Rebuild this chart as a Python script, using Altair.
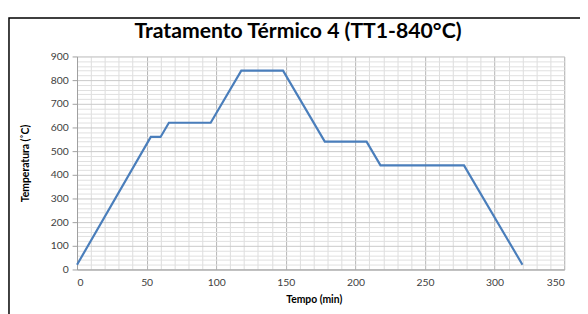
import altair as alt
import pandas as pd

tempo = [0, 53, 60, 66, 96, 118, 148, 178, 208, 218, 278, 320]
temperatura = [20, 560, 560, 620, 620, 840, 840, 540, 540, 440, 440, 20]
x_ticks = list(range(0, 351, 10))
y_ticks = list(range(0, 901, 20))
titulo = ["Tratamento Térmico 4 (TT1-840°C)"]

df = pd.DataFrame({"tempo": tempo, "temp": temperatura})

FONT = "Lato"

x_axis = alt.Axis(
    title="Tempo (min)",
    values=x_ticks,
    labelExpr="datum.value % 50 == 0 ? datum.label : ''",
    gridColor={"condition": {"test": "datum.value % 50 == 0", "value": "#b4b4b4"}, "value": "#dcdcdc"},
    ticks=False,
    domainColor="#a0a0a0",
    labelPadding=8,
    labelFontSize=10.5,
    labelColor="#404040",
    labelFont=FONT,
    titleFont=FONT,
    titleFontSize=10.5,
    titleFontWeight="bold",
    titleColor="#000000",
    titlePadding=7,
    titleX=240,
)
y_axis = alt.Axis(
    title="Temperatura (˚C)",
    values=y_ticks,
    labelExpr="datum.value % 100 == 0 ? datum.label : ''",
    gridColor={"condition": {"test": "datum.value % 100 == 0", "value": "#c8c8c8"}, "value": "#e0e0e0"},
    tickOpacity={"condition": {"test": "datum.value % 100 == 0", "value": 1}, "value": 0},
    tickColor="#a0a0a0",
    tickSize=5,
    domainColor="#a0a0a0",
    labelPadding=4,
    labelFontSize=10.5,
    labelColor="#404040",
    labelFont=FONT,
    titleFont=FONT,
    titleFontSize=10.5,
    titleFontWeight="bold",
    titleColor="#000000",
    titlePadding=20,
)

line = alt.Chart(df).mark_line(color="#4a7ebb", strokeWidth=2.2).encode(
    x=alt.X("tempo:Q", scale=alt.Scale(domain=[0, 350], nice=False), axis=x_axis),
    y=alt.Y("temp:Q", scale=alt.Scale(domain=[0, 900], nice=False), axis=y_axis),
)

frame = alt.Chart(pd.DataFrame({"a": [0]})).mark_rect(
    fill=None, stroke="#000000", strokeWidth=1.5
).encode(
    x=alt.value(-69), x2=alt.value(620), y=alt.value(-39), y2=alt.value(400)
)

title = alt.Chart(pd.DataFrame({"t": titulo})).mark_text(
    font=FONT, fontSize=21.5, fontWeight="bold", color="#000000",
    align="center", baseline="middle"
).encode(
    text="t:N", x=alt.value(224), y=alt.value(-25)
)

chart = alt.layer(frame, line, title).properties(
    width=494,
    height=216,
    padding={"left": 70, "top": 47, "right": 16, "bottom": 43},
    autosize=alt.AutoSizeParams(type="none"),
).configure_view(stroke="#dcdcdc").configure(background="white")

chart.save("out.html", embed_options={"renderer": "svg", "actions": False})
